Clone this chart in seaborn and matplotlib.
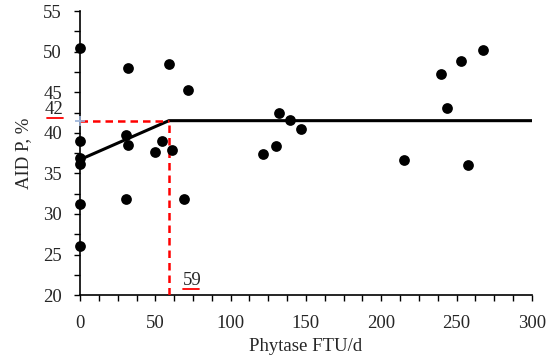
import numpy as np
import pandas as pd
import matplotlib
matplotlib.use("Agg")
import matplotlib.pyplot as plt
import seaborn as sns
from matplotlib.ticker import MultipleLocator
from matplotlib.transforms import blended_transform_factory

phytase = [0, 0, 0, 0, 0, 0, 30.3, 31.9, 31.9, 30.5, 50, 54.6, 59.3, 61.3, 68.8, 71.9,
           121.4, 130.3, 132.1, 139.1, 146.4, 215.4, 240, 243.7, 253, 257.9, 267.4]
aid_p = [50.4, 39.0, 36.9, 36.1, 31.2, 26.0, 39.7, 38.45, 48.0, 31.9, 37.6, 39.0, 48.5, 37.9, 31.9, 45.3,
         37.4, 38.4, 42.4, 41.6, 40.5, 36.7, 47.3, 43.1, 48.9, 36.0, 50.2]

# broken-line fit
fit_x = [0, 59, 300]
fit_y = [36.7, 41.5, 41.5]
bp_x = 59
bp_y = 41.5
bp_labels = ["59", "42"]

df = pd.DataFrame({"Phytase": phytase, "AID": aid_p})
fit = pd.DataFrame({"x": fit_x, "y": fit_y})

sns.set_style("ticks")
plt.rcParams["font.family"] = ["Liberation Serif", "DejaVu Serif"]
fs = 13.5

fig, ax = plt.subplots(figsize=(5.5, 3.59), dpi=100)
fig.subplots_adjust(left=0.1455, right=0.967, top=0.969, bottom=0.178)

sns.lineplot(data=fit, x="x", y="y", ax=ax, color="black", linewidth=2.2, zorder=2)
ax.plot([0, bp_x], [bp_y, bp_y], color="#ff0000", linestyle=(0, (3, 2)), linewidth=1.8, zorder=3)
ax.plot([bp_x, bp_x], [20, bp_y], color="#ff0000", linestyle=(0, (3, 2)), linewidth=1.8, zorder=3)
ax.plot([0], [bp_y], marker="+", color="#9bb3d9", markersize=7, mew=1.2, zorder=5, clip_on=False)
sns.scatterplot(data=df, x="Phytase", y="AID", ax=ax, color="black", s=60,
                edgecolor="black", linewidth=0, zorder=4, clip_on=False)

ax.set_xlim(0, 300)
ax.set_ylim(20, 55)
ax.xaxis.set_major_locator(MultipleLocator(50))
ax.xaxis.set_minor_locator(MultipleLocator(12.5))
ax.yaxis.set_major_locator(MultipleLocator(5))
ax.yaxis.set_minor_locator(MultipleLocator(2.5))
ax.tick_params(which="both", direction="out", length=4, width=1, color="black",
               labelsize=fs)
ax.tick_params(axis="x", pad=10)
ax.tick_params(axis="y", pad=9)

for side in ["top", "right"]:
    ax.spines[side].set_visible(False)
for side in ["left", "bottom"]:
    ax.spines[side].set_linewidth(1.2)
    ax.spines[side].set_color("black")

ax.set_xlabel("Phytase FTU/d", fontsize=fs, labelpad=5)
ax.set_ylabel("AID P, %", fontsize=fs, labelpad=8)

# breakpoint labels with red underline
ty = blended_transform_factory(ax.transAxes, ax.transData)
ax.text(-0.037, bp_y + 0.8, bp_labels[1], transform=ty, ha="right", va="baseline", fontsize=fs)
ax.plot([-0.073, -0.037], [bp_y + 0.36, bp_y + 0.36], transform=ty, color="#ff0000",
        linewidth=1.3, clip_on=False)
tx = blended_transform_factory(ax.transData, ax.transAxes)
ax.text(bp_x + 9.3, 0.034, bp_labels[0], transform=tx, ha="left", va="baseline", fontsize=fs)
ax.plot([bp_x + 9.3, bp_x + 19.8], [0.02, 0.02], transform=tx, color="#ff0000",
        linewidth=1.3, clip_on=False)

fig.savefig("out.png", dpi=100)
